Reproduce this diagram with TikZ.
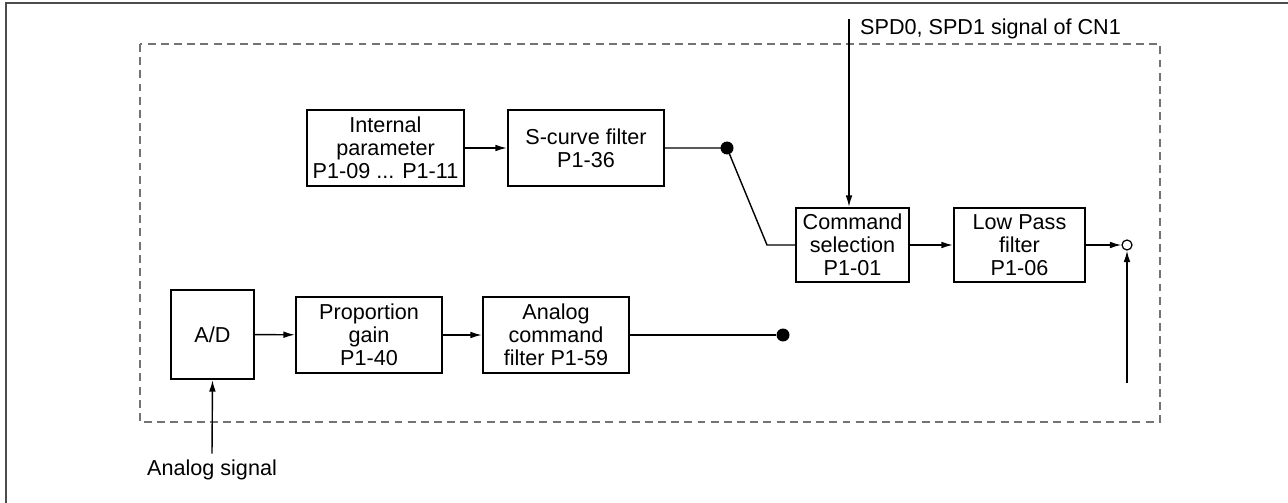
\documentclass[tikz,border=0pt]{standalone}
\usepackage{fontspec}
\setmainfont{Liberation Sans}
\usetikzlibrary{arrows.meta,positioning}

\begin{document}
\begin{tikzpicture}[x=0.02cm, y=-0.02cm,
    blk/.style={draw, line width=1.3pt, align=center, inner sep=0pt, font=\fontsize{12.3}{13.2}\selectfont},
    lbl/.style={font=\fontsize{12.3}{13.2}\selectfont},
    arr/.style={-{Latex[length=6.5pt, width=3.8pt]}, line width=0.8pt},
    wire/.style={line width=0.8pt},
    dot/.style={circle, fill, inner sep=0pt, minimum size=0.26cm},
    odot/.style={circle, draw, fill=white, line width=0.7pt, inner sep=0pt, minimum size=0.2cm}
]
\useasboundingbox (0,0) rectangle (1288,503);
% outer frame (top and left only)
\draw[line width=1.2pt, black!70] (1288,3) -- (6,3) -- (6,503);
% dashed border
\draw[black!55, line width=0.9pt, dash pattern=on 4.5pt off 3pt] (140,44) rectangle (1160,422);

% upper path
\node[blk, minimum width=3.14cm, minimum height=1.52cm] (ipar) at (385.5,148) {Internal\\parameter\\P1-09 ... P1-11};
\node[blk, minimum width=3.12cm, minimum height=1.52cm] (scf) at (586,148) {S-curve filter\\P1-36};
\node[dot] (d1) at (727,148) {};
\coordinate (bend) at (767,245);
\node[blk, minimum width=2.26cm, minimum height=1.48cm] (cmd) at (852.5,245) {Command\\selection\\P1-01};
\node[blk, minimum width=2.62cm, minimum height=1.48cm] (lpf) at (1019.5,245) {Low Pass\\filter\\P1-06};
\node[odot] (out) at (1127,245) {};
\coordinate (rin) at (1127,383);
\coordinate (spd) at (849,19);
\node[lbl, anchor=west] (spdtxt) at (854,29) {SPD0, SPD1 signal of CN1};

% lower path
\node[blk, minimum width=1.66cm, minimum height=1.78cm] (ad) at (212.5,334.5) {A/D};
\node[blk, minimum width=2.92cm, minimum height=1.52cm] (pgain) at (369,335) {Proportion\\gain\\P1-40};
\node[blk, minimum width=2.92cm, minimum height=1.52cm] (acf) at (556,335) {Analog\\command\\filter P1-59};
\node[dot] (d2) at (783,335) {};
\node[lbl] (asig) at (212,470) {Analog signal};

\draw[arr] (ipar) -- (scf);
\draw[wire] (scf) -- (d1.center) -- (bend) -- (cmd.west);
\draw[arr] (cmd) -- (lpf);
\draw[arr] (lpf) -- (out);
\draw[arr] (rin) -- (out.south);
\draw[arr] (spd) -- (spd |- cmd.north);

\draw[arr] (ad) -- (pgain);
\draw[arr] (pgain) -- (acf);
\draw[wire] (acf) -- (d2);
\draw[arr] (asig.north) -- (ad.south);
\end{tikzpicture}
\end{document}
